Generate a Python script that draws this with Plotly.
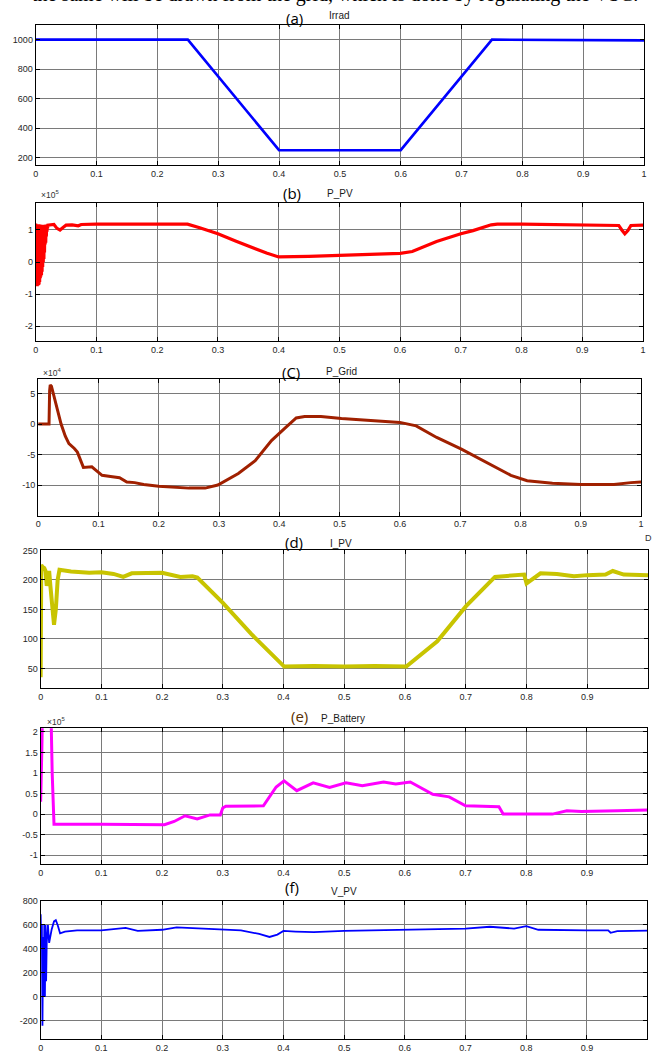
import plotly.graph_objects as go

W, H = 653, 1053

# ---------------- DATA ----------------
irrad_t = [0.0, 0.25, 0.40, 0.60, 0.75, 0.90, 0.901, 1.0]
irrad_v = [1000, 1000, 250, 250, 1000, 1000, 995, 995]

# P_PV in units of 1e5
ppv_t = [0.0, 0.0005, 0.001, 0.0015, 0.002, 0.0025, 0.003, 0.0035, 0.004, 0.0045,
         0.005, 0.0055, 0.006, 0.0065, 0.007, 0.0075, 0.008, 0.0085, 0.009, 0.0095,
         0.010, 0.0105, 0.011, 0.0115, 0.012, 0.0125, 0.013, 0.0135, 0.014, 0.0145,
         0.015, 0.0155, 0.016, 0.0165, 0.017, 0.0175, 0.018, 0.0185, 0.019, 0.0195,
         0.020, 0.025, 0.030, 0.035, 0.040, 0.045, 0.050, 0.060, 0.070, 0.075,
         0.10, 0.20, 0.25, 0.27, 0.30, 0.33, 0.36, 0.38, 0.40, 0.42,
         0.45, 0.50, 0.55, 0.60, 0.62, 0.66, 0.70, 0.72, 0.75, 0.76,
         0.80, 0.85, 0.90, 0.96, 0.965, 0.970, 0.975, 0.98, 1.0]
ppv_v = [1.20, -0.70, 1.18, -0.75, 1.15, -0.75, 1.18, -0.72, 1.16, -0.72,
         1.18, -0.70, 1.15, -0.62, 1.17, -0.50, 1.15, -0.45, 1.16, -0.40,
         1.15, -0.30, 1.16, -0.15, 1.15, 0.00, 1.16, 0.10, 1.15, 0.30,
         1.16, 0.55, 1.15, 0.60, 1.17, 0.80, 1.15, 0.95, 1.16, 1.05,
         1.15, 1.17, 1.17, 1.05, 1.00, 1.08, 1.15, 1.16, 1.13, 1.17,
         1.18, 1.18, 1.18, 1.07, 0.88, 0.65, 0.42, 0.28, 0.16, 0.16,
         0.18, 0.21, 0.24, 0.27, 0.33, 0.64, 0.88, 0.98, 1.16, 1.18,
         1.18, 1.16, 1.14, 1.14, 1.00, 0.88, 0.98, 1.14, 1.15]

# P_Grid in units of 1e4
pgrid_t = [0.0, 0.018, 0.019, 0.020, 0.022, 0.025, 0.030, 0.038, 0.045, 0.051,
           0.060, 0.065, 0.075, 0.089, 0.095, 0.106, 0.120, 0.135, 0.147, 0.160,
           0.175, 0.20, 0.25, 0.277, 0.298, 0.332, 0.36, 0.387, 0.408, 0.428,
           0.442, 0.469, 0.503, 0.558, 0.60, 0.627, 0.661, 0.702, 0.743, 0.784,
           0.811, 0.853, 0.90, 0.955, 0.983, 1.0]
pgrid_v = [0.0, 0.0, 5.5, 6.4, 6.2, 5.0, 3.0, 0.0, -2.0, -3.2,
           -4.0, -4.6, -7.1, -7.0, -7.5, -8.4, -8.6, -8.8, -9.5, -9.6,
           -9.9, -10.2, -10.5, -10.5, -10.0, -8.1, -6.0, -2.7, -0.8, 1.0,
           1.25, 1.25, 0.9, 0.55, 0.27, -0.3, -2.2, -4.1, -6.3, -8.4,
           -9.3, -9.7, -9.9, -9.9, -9.6, -9.5]

ipv_t = [0.0, 0.001, 0.003, 0.006, 0.008, 0.010, 0.012, 0.014, 0.016, 0.019,
         0.022, 0.025, 0.028, 0.031, 0.05, 0.08, 0.10, 0.12, 0.136, 0.15,
         0.20, 0.23, 0.25, 0.258, 0.30, 0.347, 0.401, 0.45, 0.50, 0.55,
         0.602, 0.653, 0.70, 0.748, 0.77, 0.796, 0.80, 0.823, 0.85, 0.878,
         0.90, 0.93, 0.942, 0.96, 1.0]
ipv_v = [35, 225, 222, 220, 215, 190, 200, 215, 190, 150,
         124, 150, 200, 217, 214, 212, 213, 210, 205, 211,
         212, 205, 206, 204, 161, 108, 53, 54, 53, 54,
         53, 96, 155, 205, 207, 209, 194, 211, 210, 206,
         208, 209, 215, 209, 208]

# P_Battery in units of 1e5
pbat_t = [0.0, 0.001, 0.002, 0.003, 0.010, 0.015, 0.017, 0.019, 0.021, 0.022,
          0.10, 0.204, 0.22, 0.238, 0.258, 0.27, 0.279, 0.296, 0.30, 0.305,
          0.367, 0.388, 0.401, 0.422, 0.449, 0.476, 0.503, 0.53, 0.565, 0.585,
          0.609, 0.646, 0.673, 0.70, 0.755, 0.762, 0.80, 0.843, 0.867, 0.891,
          0.95, 1.0]
pbat_v = [0.30, 0.80, 1.60, 2.50, 3.00, 3.00, 2.50, 1.00, -0.20, -0.25,
          -0.25, -0.26, -0.18, -0.04, -0.12, -0.06, -0.02, -0.02, 0.15, 0.19,
          0.20, 0.66, 0.81, 0.57, 0.76, 0.65, 0.76, 0.69, 0.78, 0.73,
          0.78, 0.48, 0.42, 0.20, 0.18, 0.00, 0.00, 0.00, 0.08, 0.06,
          0.08, 0.10]

vpv_t = [0.0, 0.001, 0.002, 0.003, 0.004, 0.005, 0.006, 0.007, 0.008, 0.009,
         0.010, 0.012, 0.014, 0.018, 0.022, 0.025, 0.028, 0.032, 0.04, 0.06,
         0.10, 0.14, 0.16, 0.20, 0.224, 0.25, 0.30, 0.33, 0.36, 0.377,
         0.39, 0.40, 0.42, 0.45, 0.50, 0.60, 0.65, 0.70, 0.74, 0.78,
         0.80, 0.82, 0.90, 0.935, 0.939, 0.95, 1.0]
vpv_v = [690, 420, 600, -240, 500, 0, 600, 0, 600, 130,
         450, 600, 450, 560, 630, 640, 600, 530, 545, 555,
         555, 575, 550, 560, 580, 575, 560, 555, 525, 500,
         520, 550, 545, 540, 550, 560, 570, 570, 585, 570,
         590, 560, 555, 555, 535, 548, 552]

x_ticks_full = [0, 0.1, 0.2, 0.3, 0.4, 0.5, 0.6, 0.7, 0.8, 0.9, 1]
x_ticks_short = [0, 0.1, 0.2, 0.3, 0.4, 0.5, 0.6, 0.7, 0.8, 0.9]

# ---------------- LAYOUT HELPERS ----------------
def px_x(p):
    return p / W

def px_y(p):
    return 1 - p / H

panels = [
    (irrad_t, irrad_v, "#0000ff", 2.6, (33, 647, 20, 161), [150, 1100], [200, 400, 600, 800, 1000], [0, 1], x_ticks_full),
    (ppv_t, ppv_v, "#ff0000", 3.2, (33, 646, 199, 338), [-2.45, 1.85], [-2, -1, 0, 1], [0, 1], x_ticks_full),
    (pgrid_t, pgrid_v, "#a02000", 3.0, (35.5, 644, 377, 514), [-15, 7.3], [-10, -5, 0, 5], [0, 1], x_ticks_full),
    (ipv_t, ipv_v, "#c8c400", 4.0, (38, 651, 549, 688), [16, 250], [50, 100, 150, 200, 250], [0, 1.0], x_ticks_short),
    (pbat_t, pbat_v, "#ff00ff", 3.0, (38, 650, 728, 865), [-1.22, 2.09], [-1, -0.5, 0, 0.5, 1, 1.5, 2], [0, 0.999], x_ticks_short),
    (vpv_t, vpv_v, "#0000ff", 1.8, (38, 650, 902, 1041), [-352, 800], [-200, 0, 200, 400, 600, 800], [0, 0.999], x_ticks_short),
]

fig = go.Figure()
layout = dict(
    width=W, height=H,
    margin=dict(l=0, r=0, t=0, b=0),
    paper_bgcolor="white", plot_bgcolor="white",
    showlegend=False,
    font=dict(family="Liberation Sans, Arial, sans-serif", size=9, color="#262626"),
)

for i, (tx, ty, col, lw, box, yr, ytk, xr, xtk) in enumerate(panels, start=1):
    sfx = "" if i == 1 else str(i)
    l, r, t, b = box
    fig.add_trace(go.Scatter(x=tx, y=ty, mode="lines",
                             line=dict(color=col, width=lw),
                             xaxis="x" + sfx, yaxis="y" + sfx, cliponaxis=True))
    common = dict(showline=True, linecolor="#000000", linewidth=1, mirror="ticks",
                  ticks="inside", ticklen=4, tickcolor="#000000",
                  showgrid=True, gridcolor="#7a7a7a", gridwidth=1,
                  zeroline=False, tickfont=dict(size=9, color="#262626"))
    layout["xaxis" + sfx] = dict(domain=[px_x(l), px_x(r)], range=xr, anchor="y" + sfx,
                                 tickmode="array", tickvals=xtk,
                                 ticktext=[("%g" % v) for v in xtk], **common)
    layout["yaxis" + sfx] = dict(domain=[px_y(b), px_y(t)], range=yr, anchor="x" + sfx,
                                 tickmode="array", tickvals=ytk,
                                 ticktext=[("%g" % v) for v in ytk], **common)

fig.update_layout(**layout)

def ann(text, x, y, size, color="#000000", family="Liberation Sans, Arial, sans-serif"):
    fig.add_annotation(text=text, x=px_x(x), y=px_y(y), xref="paper", yref="paper",
                       xanchor="center", yanchor="middle", showarrow=False,
                       font=dict(size=size, color=color, family=family))

# panel titles
titles = [("(a)", 294, 13, "Irrad", 340, 11),
          ("(b)", 292, 189, "P_PV", 340, 190),
          ("(C)", 291, 369, "P_Grid", 342, 369),
          ("(d)", 294, 541, "I_PV", 341, 542),
          ("(e)", 299, 716, "P_Battery", 343, 718),
          ("(f)", 292, 888, "V_PV", 344, 892)]
for lab, lx, ly, name, nx, ny in titles:
    c = "#5a3000" if lab == "(e)" else "#000000"
    ann(lab, lx, ly, 15, color=c, family="Open Sans, Liberation Sans, sans-serif")
    ann(name, nx, ny, 10, color="#1a1a1a")

# exponent labels
ann("×10<sup>5</sup>", 47, 191, 8.5, color="#333333")
ann("×10<sup>4</sup>", 49, 370, 8.5, color="#333333")
ann("×10<sup>5</sup>", 53, 721, 8.5, color="#333333")

# cropped text from the page above (only its lower part shows) and stray character at right
fig.add_annotation(text="the same will be drawn from the grid, which is done by regulating the VSC.",
                   x=px_x(335), y=px_y(3), xref="paper", yref="paper",
                   xanchor="center", yanchor="bottom", showarrow=False,
                   font=dict(size=20, color="#000000", family="Liberation Serif, serif"))
ann("D", 651, 537, 9, color="#333333")

fig.write_html("out.html")
